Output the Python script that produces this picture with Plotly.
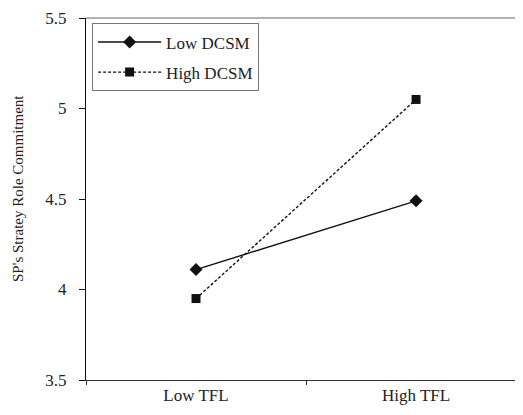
import plotly.graph_objects as go

categories = ["Low TFL", "High TFL"]
low_dcsm = [4.11, 4.49]
high_dcsm = [3.95, 5.05]
y_ticks = [3.5, 4, 4.5, 5, 5.5]
y_tick_labels = ["3.5", "4", "4.5", "5", "5.5"]
y_title = "SP's Stratey Role Commitment"

font_family = "Liberation Serif, Times New Roman, serif"

fig = go.Figure()
fig.add_trace(go.Scatter(
    x=categories, y=low_dcsm, name="Low DCSM", mode="lines+markers",
    legendgroup="a",
    line=dict(color="#111111", width=1.4, dash="solid"),
    marker=dict(symbol="diamond", size=10, color="#111111"),
))
fig.add_trace(go.Scatter(
    x=categories, y=high_dcsm, name="High DCSM", mode="lines+markers",
    legendgroup="b",
    line=dict(color="#111111", width=1.4, dash="3px,2px"),
    marker=dict(symbol="square", size=9, color="#111111"),
))

# The page body has an 8px default margin, so the figure is sized to fit the window.
fig.update_layout(
    width=515, height=407,
    margin=dict(l=78, r=0, t=10, b=35, autoexpand=False),
    paper_bgcolor="white", plot_bgcolor="white",
    font=dict(family=font_family, color="#222222"),
    showlegend=True,
    legend=dict(
        x=0.014, y=0.985, xanchor="left", yanchor="top",
        bordercolor="#777777", borderwidth=1, bgcolor="white",
        font=dict(size=17, family=font_family, color="#222222"),
        traceorder="grouped", tracegroupgap=5, itemwidth=63,
    ),
    xaxis=dict(
        type="category", range=[-0.5, 1.486], automargin=False,
        showgrid=False, zeroline=False,
        showline=True, linecolor="#333333", linewidth=1,
        ticks="outside", ticklen=4, tickcolor="#333333",
        tickson="boundaries",
        tickfont=dict(size=17, family=font_family, color="#222222"),
    ),
    yaxis=dict(
        range=[3.5, 5.5], tickvals=y_ticks, ticktext=y_tick_labels,
        automargin=False, ticklabeloverflow="allow",
        showgrid=False, zeroline=False,
        showline=True, linecolor="#111111", linewidth=1.2,
        ticks="outside", ticklen=6, tickcolor="#111111",
        ticklabelstandoff=9,
        tickfont=dict(size=17, family=font_family, color="#222222"),
    ),
    annotations=[dict(
        text=y_title, textangle=-90, showarrow=False,
        xref="paper", yref="paper", x=-0.156, y=0.53,
        xanchor="center", yanchor="middle",
        font=dict(size=15, family=font_family, color="#222222"),
    )],
    shapes=[dict(type="line", xref="paper", yref="paper", x0=0, x1=1, y0=1, y1=1,
                 line=dict(color="#999999", width=1.5))],
)

fig.write_html("out.html")
